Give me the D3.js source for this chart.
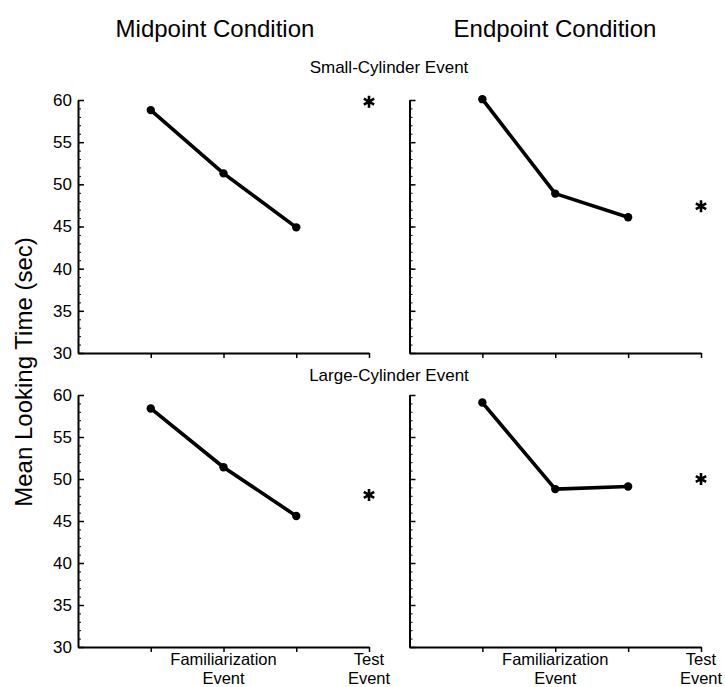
<html>
<head>
<meta charset="utf-8">
<title>Mean Looking Time</title>
<script src="https://d3js.org/d3.v7.min.js"></script>
<style>
  body { margin: 0; background: #fff; }
  text { font-family: "Liberation Sans", Arial, Helvetica, sans-serif; fill: #000; }
</style>
</head>
<body>
<div id="chart"></div>
<script>
// trial positions on the x axis
const familiarizationTrials = [1, 2, 3];
const testTrial = 4;

// mean looking times (sec)
const midpointSmall = [58.8, 51.3, 44.9];
const midpointSmallTest = 59.8;
const endpointSmall = [60.1, 48.9, 46.1];
const endpointSmallTest = 47.4;
const midpointLarge = [58.4, 51.4, 45.6];
const midpointLargeTest = 48.1;
const endpointLarge = [59.1, 48.8, 49.1];
const endpointLargeTest = 50.0;

const yTicks = [30, 35, 40, 45, 50, 55, 60];
const conditions = ["Midpoint Condition", "Endpoint Condition"];
const events = ["Small-Cylinder Event", "Large-Cylinder Event"];

const width = 725, height = 687;

const svg = d3.select("#chart").append("svg")
  .attr("width", width)
  .attr("height", height);

// column / row placement
const colRange = [[78, 369], [409.5, 701]];
const rowRange = [[353, 100], [647, 395]];

const panels = [
  { col: 0, row: 0, fam: midpointSmall, test: midpointSmallTest },
  { col: 1, row: 0, fam: endpointSmall, test: endpointSmallTest },
  { col: 0, row: 1, fam: midpointLarge, test: midpointLargeTest },
  { col: 1, row: 1, fam: endpointLarge, test: endpointLargeTest }
];

const starType = d3.symbolAsterisk || d3.symbolCross;

panels.forEach(function(p) {
  const x = d3.scaleLinear().domain([0, testTrial]).range(colRange[p.col]);
  const y = d3.scaleLinear().domain([30, 60]).range(rowRange[p.row]);
  const g = svg.append("g");

  // minor y ticks
  g.append("g")
    .attr("transform", `translate(${x(0)},0)`)
    .call(d3.axisLeft(y).tickValues(d3.range(30, 61)).tickSize(-3).tickFormat(""))
    .call(a => a.select(".domain").remove())
    .selectAll("line").attr("stroke-width", 1);

  // major y axis
  const yAxis = g.append("g")
    .attr("transform", `translate(${x(0)},0)`)
    .call(d3.axisLeft(y).tickValues(yTicks).tickSize(-6).tickSizeOuter(0).tickPadding(6)
      .tickFormat(p.col === 0 ? d3.format("d") : ""));
  yAxis.select(".domain").attr("stroke-width", 2);
  yAxis.selectAll("line").attr("stroke-width", 1.5);
  yAxis.selectAll("text").attr("font-size", "17px").attr("font-family", null);

  // x axis
  const xAxis = g.append("g")
    .attr("transform", `translate(0,${y(30)})`)
    .call(d3.axisBottom(x).tickValues([1, 2, 3, 4]).tickSize(5).tickSizeOuter(0).tickFormat(""));
  xAxis.select(".domain").attr("stroke-width", 2);
  xAxis.selectAll("line").attr("stroke-width", 1.5);

  // familiarization line
  const pts = familiarizationTrials.map((t, i) => [t, p.fam[i]]);
  g.append("path")
    .datum(pts)
    .attr("fill", "none")
    .attr("stroke", "#000")
    .attr("stroke-width", 3.6)
    .attr("stroke-linejoin", "round")
    .attr("d", d3.line().x(d => x(d[0])).y(d => y(d[1])));

  g.selectAll("circle")
    .data(pts)
    .enter().append("circle")
    .attr("cx", d => x(d[0]))
    .attr("cy", d => y(d[1]))
    .attr("r", 4.2)
    .attr("fill", "#000");

  // test event asterisk
  g.append("path")
    .attr("transform", `translate(${x(testTrial)},${y(p.test)})`)
    .attr("d", d3.symbol().type(starType).size(100)())
    .attr("fill", "none")
    .attr("stroke", "#000")
    .attr("stroke-width", 2.6);

  // x labels on bottom row
  if (p.row === 1) {
    const lbl = [["Familiarization", "Event", 2], ["Test", "Event", testTrial]];
    lbl.forEach(function(l) {
      g.append("text")
        .attr("x", x(l[2]))
        .attr("y", 665)
        .attr("text-anchor", "middle")
        .attr("font-size", "16.5px")
        .text(l[0]);
      g.append("text")
        .attr("x", x(l[2]))
        .attr("y", 684)
        .attr("text-anchor", "middle")
        .attr("font-size", "16.5px")
        .text(l[1]);
    });
  }
});

// condition titles
svg.selectAll(".cond")
  .data(conditions)
  .enter().append("text")
  .attr("class", "cond")
  .attr("x", (d, i) => i === 0 ? 215 : 555)
  .attr("y", 37)
  .attr("text-anchor", "middle")
  .attr("font-size", "24px")
  .text(d => d);

// event titles
svg.selectAll(".evt")
  .data(events)
  .enter().append("text")
  .attr("class", "evt")
  .attr("x", 389)
  .attr("y", (d, i) => i === 0 ? 73 : 381)
  .attr("text-anchor", "middle")
  .attr("font-size", "17px")
  .text(d => d);

// y axis title
svg.append("text")
  .attr("transform", "translate(32,372) rotate(-90)")
  .attr("text-anchor", "middle")
  .attr("font-size", "24px")
  .text("Mean Looking Time (sec)");
</script>
</body>
</html>
